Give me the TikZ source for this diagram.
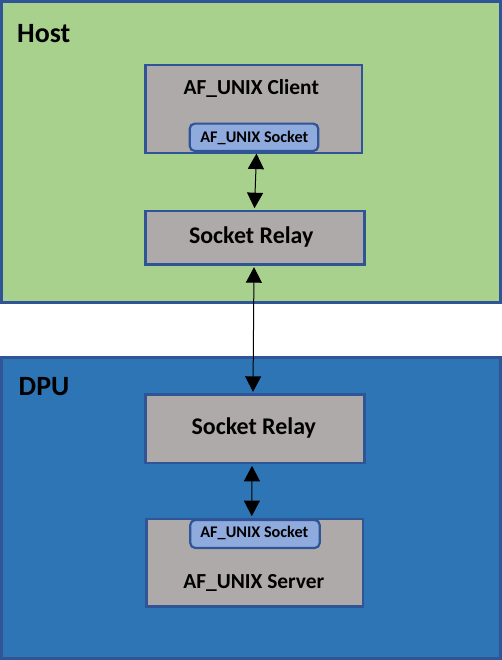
\documentclass[tikz,border=0pt]{standalone}
\usepackage{fontspec}
\setmainfont{Carlito}
\usetikzlibrary{arrows.meta}
\definecolor{hostgreen}{HTML}{A9D18E}
\definecolor{dpublue}{HTML}{2E75B6}
\definecolor{edgeblue}{HTML}{2F5597}
\definecolor{boxgray}{HTML}{AEAAAA}
\definecolor{sockblue}{HTML}{8FAADC}
\tikzset{
  region/.style={draw=edgeblue, line width=3bp, minimum width=498bp, inner sep=0pt, anchor=center},
  graybox/.style={draw=edgeblue, fill=boxgray, line width=2.7bp, inner sep=0pt, anchor=center},
  sockbox/.style={draw=edgeblue, fill=sockblue, line width=2.2bp, rounded corners=5bp, inner sep=0pt, anchor=center},
  lbl/.style={inner sep=0pt, anchor=base, font=\bfseries},
  biarrow/.style={line width=1bp, black, {Triangle[length=15.5bp,width=16bp]}-{Triangle[length=15.5bp,width=16bp]}}
}
\begin{document}
\begin{tikzpicture}[x=1bp,y=-1bp]
\useasboundingbox (0,0) rectangle (502,660);
% regions
\node[region, fill=hostgreen, minimum height=300bp] (host) at (251,152) {};
\node[region, fill=dpublue, minimum height=301bp] (dpu) at (251,507.5) {};
\node[lbl, anchor=base west, font=\bfseries\fontsize{28}{30}\selectfont] (hostlbl) at (17,42.3) {Host};
\node[lbl, anchor=base west, font=\bfseries\fontsize{28}{30}\selectfont] (dpulbl) at (18.5,395) {DPU};
% host side
\node[graybox, minimum width=216.3bp, minimum height=88bp] (client) at (253.8,109) {};
\node[lbl, font=\bfseries\fontsize{21.5}{24}\selectfont] (clientlbl) at (251.3,95) {AF\_UNIX Client};
\node[sockbox, minimum width=128.6bp, minimum height=27.3bp] (csock) at (254,137.3) {};
\node[lbl, font=\bfseries\fontsize{16.3}{18}\selectfont] (csocklbl) at (254.3,142.7) {AF\_UNIX Socket};
\node[graybox, minimum width=218.6bp, minimum height=53.3bp] (hrelay) at (255,237.7) {};
\node[lbl, font=\bfseries\fontsize{24}{26}\selectfont] (hrelaylbl) at (251.2,243.3) {Socket Relay};
% dpu side
\node[graybox, minimum width=218.6bp, minimum height=68.3bp] (drelay) at (255,428.8) {};
\node[lbl, font=\bfseries\fontsize{24}{26}\selectfont] (drelaylbl) at (253.8,434.3) {Socket Relay};
\node[graybox, minimum width=216.3bp, minimum height=87.7bp] (server) at (254.8,562.8) {};
\node[sockbox, minimum width=129.4bp, minimum height=28bp] (ssock) at (255,534) {};
\node[lbl, font=\bfseries\fontsize{16.3}{18}\selectfont] (ssocklbl) at (254.3,537.3) {AF\_UNIX Socket};
\node[lbl, font=\bfseries\fontsize{21.5}{24}\selectfont] (serverlbl) at (253.8,588.3) {AF\_UNIX Server};
% connectors
\draw[biarrow] ([xshift=2.5bp,yshift=-1.5bp]csock.south) -- ([xshift=-0.5bp,yshift=1.5bp]hrelay.north);
\draw[biarrow] ([xshift=-1bp,yshift=-1.5bp]hrelay.south) -- ([xshift=-2bp,yshift=1.5bp]drelay.north);
\draw[biarrow] ([xshift=-3bp,yshift=-1.5bp]drelay.south) -- ([xshift=-3bp,yshift=1.5bp]server.north);
\end{tikzpicture}
\end{document}
